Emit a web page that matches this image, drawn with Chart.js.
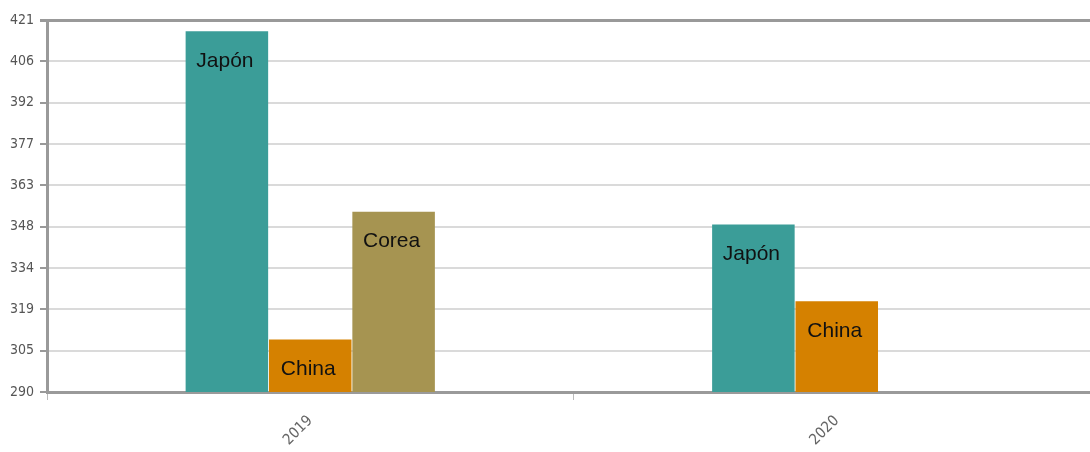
<!DOCTYPE html>
<html>
<head>
<meta charset="utf-8">
<script src="https://cdn.jsdelivr.net/npm/chart.js@4.4.0/dist/chart.umd.min.js"></script>
<style>
  html, body { margin: 0; padding: 0; background: #fff; overflow: hidden; }
  #wrap { width: 1100px; height: 452px; }
</style>
</head>
<body>
<div id="wrap"><canvas id="chart"></canvas></div>
<script>
const years = ['2019', '2020'];
const japon = [417, 349];
const china = [308.5, 322];
const corea = [353.5, null];

const yMin = 290;
const yMax = 421;

// label each bar with its series name, just under the top
const barNames = {
  id: 'barNames',
  afterDatasetsDraw(chart) {
    const ctx = chart.ctx;
    ctx.save();
    ctx.font = '21px "Liberation Sans", Arial, sans-serif';
    ctx.fillStyle = '#111';
    ctx.textAlign = 'center';
    ctx.textBaseline = 'middle';
    chart.data.datasets.forEach((ds, i) => {
      chart.getDatasetMeta(i).data.forEach((bar, j) => {
        if (ds.data[j] == null) return;
        ctx.fillText(ds.label, bar.x - 2, bar.y + 30);
      });
    });
    ctx.restore();
  }
};

const ctx = document.getElementById('chart').getContext('2d');
new Chart(ctx, {
  type: 'bar',
  data: {
    labels: years,
    datasets: [
      { label: 'Japón', data: japon, backgroundColor: '#3b9d98' },
      { label: 'China', data: china, backgroundColor: '#d58100' },
      { label: 'Corea', data: corea, backgroundColor: '#a69451' }
    ]
  },
  options: {
    responsive: true,
    maintainAspectRatio: false,
    animation: false,
    layout: { padding: { top: 20, right: 0, left: 0, bottom: 0 } },
    datasets: { bar: { categoryPercentage: 0.475, barPercentage: 0.99 } },
    plugins: {
      legend: { display: false },
      tooltip: { enabled: false }
    },
    scales: {
      x: {
        afterFit: (s) => { s.height = 60; },
        border: { color: '#9a9a9a', width: 3 },
        grid: { drawOnChartArea: false, tickLength: 8, color: '#bbb', lineWidth: 1 },
        ticks: {
          color: '#666',
          minRotation: 45,
          maxRotation: 45,
          padding: 12,
          font: { family: '"DejaVu Sans Condensed", "DejaVu Sans", sans-serif', size: 15 }
        }
      },
      y: {
        min: yMin,
        max: yMax,
        afterFit: (s) => { s.width = 47; },
        afterBuildTicks: (s) => {
          const step = (yMax - yMin) / 9;
          s.ticks = [];
          for (let i = 0; i <= 9; i++) s.ticks.push({ value: yMin + step * i });
        },
        border: { color: '#9a9a9a', width: 3 },
        grid: {
          color: (c) => c.index === 9 ? '#999' : '#dadada',
          lineWidth: (c) => c.index === 9 ? 3 : 2,
          tickColor: '#999',
          tickLength: 7
        },
        ticks: {
          color: '#555',
          padding: 6,
          callback: (v) => Math.round(v),
          font: { family: '"DejaVu Sans Condensed", "DejaVu Sans", sans-serif', size: 14 }
        }
      }
    }
  },
  plugins: [barNames]
});
</script>
</body>
</html>
